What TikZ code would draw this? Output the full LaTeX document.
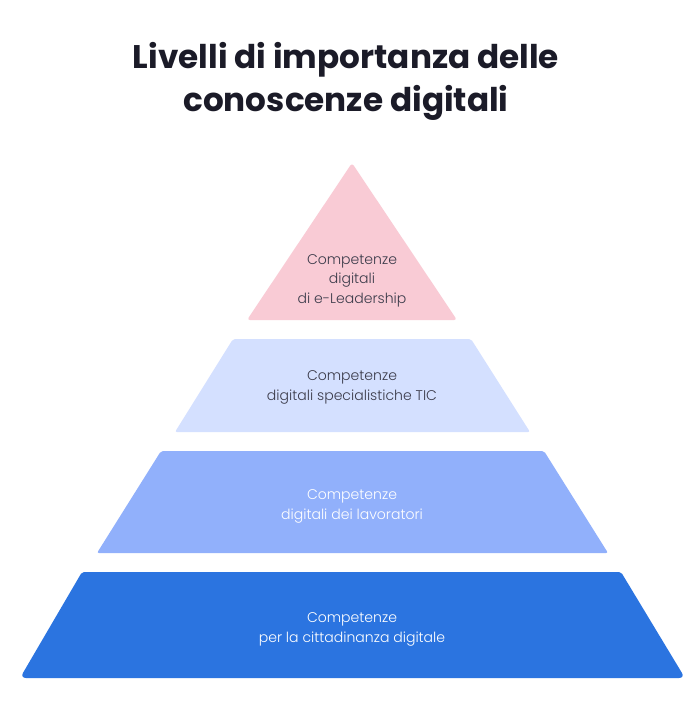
\documentclass[tikz,border=0pt]{standalone}
\usepackage{fontspec}
\setmainfont{Poppins}
\newfontfamily\lightf{Poppins Light}
\usetikzlibrary{calc}
\definecolor{titlec}{HTML}{1B1B28}
\definecolor{darktxt}{HTML}{3B3B4A}
\definecolor{pinkc}{HTML}{F9CBD5}
\definecolor{lblue}{HTML}{D4E0FF}
\definecolor{mblue}{HTML}{91B0FB}
\definecolor{dblue}{HTML}{2B74E0}
\tikzset{
  lvl/.style={rounded corners=2bp},
  lbl/.style={align=center, font=\lightf\fontsize{14.1}{19.5}\selectfont},
  ttl/.style={align=center, font=\fontsize{32.8}{43}\selectfont\bfseries, text=titlec},
}
\begin{document}
\begin{tikzpicture}[x=1bp,y=-1bp]
\useasboundingbox[fill=white] (0,0) rectangle (700,718);
% title
\node[ttl] (title) at (346,81) {Livelli di importanza delle\\conoscenze digitali};
% level 1 triangle
\coordinate (t1a) at (352,163);
\coordinate (t1l) at (247,320);
\coordinate (t1r) at (457,320);
\fill[pinkc, rounded corners=3bp] (t1a) -- (t1r) -- (t1l) -- cycle;
% level 2
\coordinate (t2tl) at (233,339);
\coordinate (t2tr) at (471,339);
\coordinate (t2br) at (530,432);
\coordinate (t2bl) at (175,432);
\fill[lblue, lvl] (t2tl) -- (t2tr) -- (t2br) -- (t2bl) -- cycle;
% level 3
\coordinate (t3tl) at (161,451);
\coordinate (t3tr) at (544,451);
\coordinate (t3br) at (608,553);
\coordinate (t3bl) at (97,553);
\fill[mblue, lvl] (t3tl) -- (t3tr) -- (t3br) -- (t3bl) -- cycle;
% level 4
\coordinate (t4tl) at (82,572);
\coordinate (t4tr) at (621,572);
\coordinate (t4br) at (685,678);
\coordinate (t4bl) at (20,678);
\fill[dblue, rounded corners=2bp] (t4tl) -- (t4tr) [rounded corners=6bp] -- (t4br) -- (t4bl) [rounded corners=2bp] -- cycle;
% labels
\node[lbl, text=darktxt] (l1) at (352,280.5) {Competenze\\digitali\\di e-Leadership};
\node[lbl, text=darktxt] (l2) at (352,387.5) {Competenze\\digitali specialistiche TIC};
\node[lbl, text=white] (l3) at (352,506.5) {Competenze\\digitali dei lavoratori};
\node[lbl, text=white] (l4) at (352,629.5) {Competenze\\per la cittadinanza digitale};
\end{tikzpicture}
\end{document}
